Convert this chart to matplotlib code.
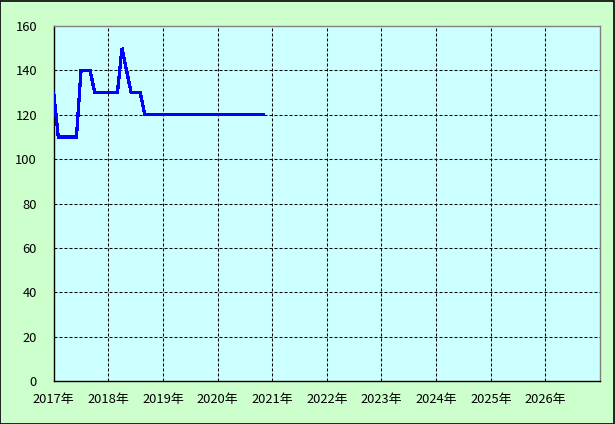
import matplotlib
matplotlib.use("Agg")
import matplotlib.pyplot as plt
from matplotlib.patches import Rectangle

plt.rcParams['font.family'] = ['Noto Sans CJK JP', 'DejaVu Sans']

# monthly values starting January 2017
values = [130,
          110, 110, 110, 110, 110,
          140, 140, 140,
          130, 130, 130, 130, 130, 130,
          150, 140,
          130, 130, 130] + [120] * 27
months = list(range(len(values)))
year_labels = ['2017年', '2018年', '2019年', '2020年', '2021年',
               '2022年', '2023年', '2024年', '2025年', '2026年']
y_ticks = [0, 20, 40, 60, 80, 100, 120, 140, 160]

fig = plt.figure(figsize=(6.15, 4.24), dpi=100, facecolor='#CCFFCC')
fig.patches.append(Rectangle((0.0008, 0.001), 0.998, 0.997, transform=fig.transFigure,
                             fill=False, edgecolor='black', linewidth=1.2))
ax = fig.add_axes([53.7/615, 1-381/424, (600-53.7)/615, (381-26)/424])
ax.set_facecolor('#CCFFFF')

ax.plot(months, values, color='#0000FF', linewidth=1.6, antialiased=False,
        solid_joinstyle='miter', zorder=3)

ax.set_xlim(0, 120)
ax.set_ylim(0, 160)
ax.set_xticks([12 * i for i in range(len(year_labels))])
ax.set_xticklabels(year_labels)
ax.set_yticks(y_ticks)
ax.set_yticklabels([str(v) for v in y_ticks])
ax.tick_params(length=0, labelsize=9.3, colors='black')
ax.tick_params(axis='y', pad=12)
ax.tick_params(axis='x', pad=9)

for x in range(12, 120, 12):
    ax.axvline(x, color='black', linewidth=0.75, linestyle=(0, (2.9, 1.9)), zorder=1)
for y in y_ticks[1:-1]:
    ax.axhline(y, color='black', linewidth=0.75, linestyle=(0, (2.9, 1.9)), zorder=1)

ax.spines['left'].set_color('black')
ax.spines['bottom'].set_color('black')
ax.spines['top'].set_color('#808080')
ax.spines['right'].set_color('#808080')
for s in ax.spines.values():
    s.set_linewidth(1.0)

fig.savefig('out.png', dpi=100, facecolor=fig.get_facecolor())
